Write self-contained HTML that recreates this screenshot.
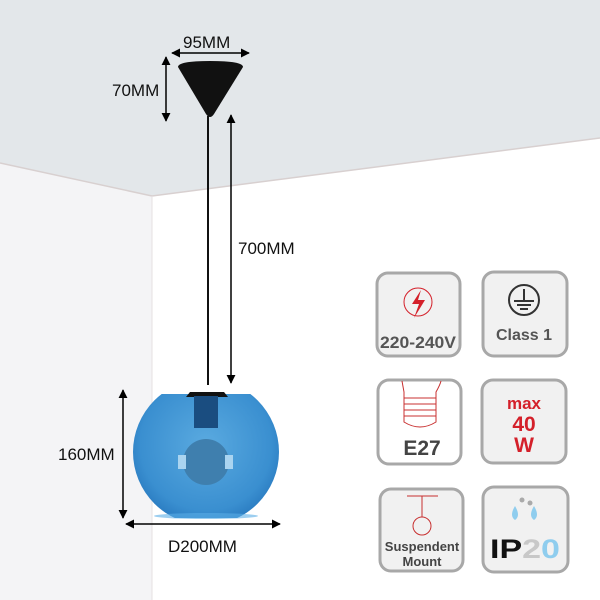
<!DOCTYPE html>
<html><head><meta charset="utf-8"><style>
body{margin:0;width:600px;height:600px;overflow:hidden;background:#fff}
svg{display:block}
text{font-family:"Liberation Sans",sans-serif}
</style></head><body>
<svg width="600" height="600" viewBox="0 0 600 600">
<defs>
<marker id="a" viewBox="0 0 10 10" refX="9" refY="5" markerWidth="6" markerHeight="6" orient="auto-start-reverse"><path d="M0,0L10,5L0,10z" fill="#000"/></marker>
<radialGradient id="g" cx="0.5" cy="0.45" r="0.6"><stop offset="0" stop-color="#5aaae0"/><stop offset="0.75" stop-color="#3a8fd0"/><stop offset="1" stop-color="#2474bb"/></radialGradient>
<clipPath id="c"><rect x="120" y="394" width="180" height="124"/></clipPath>
</defs>
<rect width="600" height="600" fill="#fff"/>
<polygon points="0,0 600,0 600,138 152,196 0,163" fill="#e3e7ea"/>
<polygon points="0,163 152,196 152,600 0,600" fill="#f4f4f6"/>
<polyline points="0,163 152,196 600,138" fill="none" stroke="#d8d0d0" stroke-width="1.5"/>
<line x1="152" y1="196" x2="152" y2="600" stroke="#e6e0e2"/>
<!-- canopy -->
<path d="M178,67 Q178,61 210,61 Q243,61 243,67 L214,114 Q210,120 206,114 Z" fill="#111"/>
<line x1="208" y1="116" x2="208" y2="385" stroke="#111" stroke-width="2"/>
<!-- shade -->
<g clip-path="url(#c)"><circle cx="206" cy="452" r="73" fill="url(#g)"/></g>
<ellipse cx="206" cy="516" rx="52" ry="3" fill="#5aaee6" opacity="0.6"/>
<path d="M186,397 L228,397 L224,392 L190,392Z" fill="#111"/>
<rect x="194" y="396" width="24" height="32" fill="#1a4d80"/>
<circle cx="206" cy="462" r="23" fill="#3f7fae"/>
<rect x="178" y="455" width="8" height="14" fill="#aad4f0"/>
<rect x="225" y="455" width="8" height="14" fill="#aad4f0"/>
<!-- dimension lines -->
<g stroke="#000" stroke-width="1.5" fill="none">
<line x1="172" y1="53" x2="249" y2="53" marker-start="url(#a)" marker-end="url(#a)"/>
<line x1="166" y1="57" x2="166" y2="121" marker-start="url(#a)" marker-end="url(#a)"/>
<line x1="231" y1="115" x2="231" y2="383" marker-start="url(#a)" marker-end="url(#a)"/>
<line x1="123" y1="390" x2="123" y2="518" marker-start="url(#a)" marker-end="url(#a)"/>
<line x1="126" y1="524" x2="280" y2="524" marker-start="url(#a)" marker-end="url(#a)"/>
</g>
<g font-size="17" fill="#111">
<text x="183" y="48">95MM</text>
<text x="112" y="96">70MM</text>
<text x="238" y="254">700MM</text>
<text x="58" y="460">160MM</text>
<text x="168" y="552">D200MM</text>
</g>
<!-- icon boxes -->
<g fill="#f1f1f1" stroke="#a8a8a8" stroke-width="3">
<rect x="377" y="273" width="83" height="83" rx="11"/>
<rect x="483" y="272" width="84" height="84" rx="11"/>
<rect x="378" y="380" width="83" height="84" rx="11" fill="#fff"/>
<rect x="482" y="380" width="84" height="83" rx="11"/>
<rect x="380" y="489" width="83" height="82" rx="11"/>
<rect x="483" y="487" width="85" height="85" rx="11"/>
</g>
<!-- 220-240V -->
<circle cx="418" cy="302" r="14" fill="none" stroke="#d4202a" stroke-width="1"/>
<path d="M421,290 L412,304 L419,304 L414,318 L425,300 L418,300 Z" fill="#d4202a"/>
<text x="418" y="348" font-size="17" font-weight="bold" fill="#555" text-anchor="middle" textLength="76" lengthAdjust="spacingAndGlyphs">220-240V</text>
<!-- class 1 -->
<circle cx="524" cy="300" r="15" fill="none" stroke="#333" stroke-width="2"/>
<g stroke="#333" stroke-width="2"><line x1="524" y1="289" x2="524" y2="301"/><line x1="514" y1="301" x2="534" y2="301"/><line x1="517" y1="305" x2="531" y2="305"/><line x1="520" y1="309" x2="528" y2="309"/></g>
<text x="524" y="340" font-size="16" font-weight="bold" fill="#555" text-anchor="middle">Class 1</text>
<!-- E27 -->
<path d="M402,381 Q404,392 404,392 L404,422 Q420,432 436,422 L436,392 Q440,385 441,381" fill="none" stroke="#c83030" stroke-width="1"/>
<g stroke="#c83030" stroke-width="1"><line x1="404" y1="398" x2="436" y2="398"/><line x1="404" y1="404" x2="436" y2="404"/><line x1="404" y1="410" x2="436" y2="410"/><line x1="404" y1="416" x2="436" y2="416"/></g>
<text x="422" y="455" font-size="21" font-weight="bold" fill="#444" text-anchor="middle">E27</text>
<!-- max 40 W -->
<g fill="#d4202a" font-weight="bold" text-anchor="middle">
<text x="524" y="409" font-size="17">max</text>
<text x="524" y="431" font-size="21">40</text>
<text x="524" y="452" font-size="21">W</text>
</g>
<!-- suspendent -->
<line x1="407" y1="496" x2="438" y2="496" stroke="#c83030"/>
<line x1="422" y1="496" x2="422" y2="517" stroke="#c83030"/>
<circle cx="422" cy="526" r="9" fill="none" stroke="#c83030"/>
<text x="422" y="551" font-size="13" font-weight="bold" fill="#444" text-anchor="middle">Suspendent</text>
<text x="422" y="566" font-size="13" font-weight="bold" fill="#444" text-anchor="middle">Mount</text>
<!-- IP20 -->
<circle cx="522" cy="500" r="2.5" fill="#aaa"/><circle cx="530" cy="503" r="2.5" fill="#aaa"/>
<path d="M515,506 Q509,516 515,520 Q521,516 515,506Z" fill="#8fcdee"/>
<path d="M534,506 Q528,516 534,520 Q540,516 534,506Z" fill="#8fcdee"/>
<text x="490" y="558" font-size="27" font-weight="bold" fill="#111" textLength="70" lengthAdjust="spacingAndGlyphs">IP<tspan fill="#c8c8c8">2</tspan><tspan fill="#8fcdee">0</tspan></text>
</svg>
</body></html>
